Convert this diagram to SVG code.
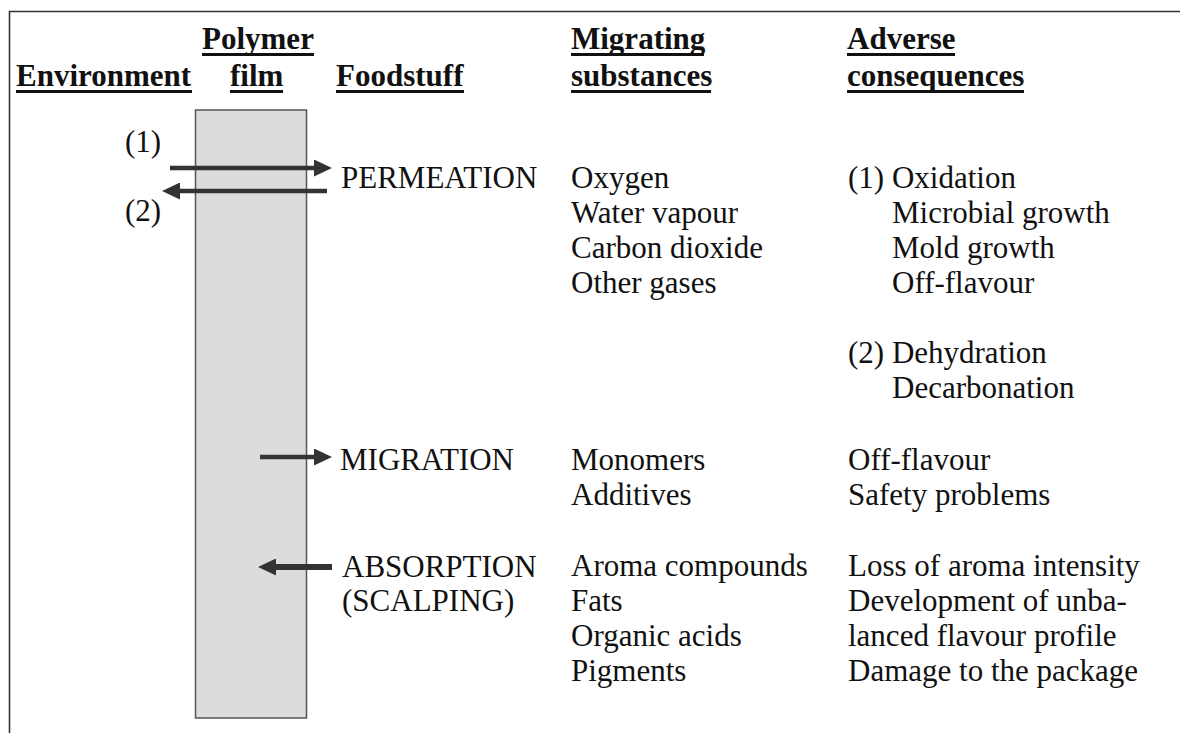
<svg xmlns="http://www.w3.org/2000/svg" width="1180" height="733" viewBox="0 0 1180 733">
<style>
text{font-family:"Liberation Serif","Times New Roman",serif;fill:#111;}
.h{font-weight:bold;font-size:31px;}
.t{font-size:31px;}
.ul{fill:#111;}
.arr{stroke:#333;stroke-width:4.5;fill:none;}
</style>
<defs>
<marker id="ah" viewBox="0 0 18 17" refX="8" refY="8.5" markerWidth="18" markerHeight="17" orient="auto" markerUnits="userSpaceOnUse">
<path d="M0,0 L18,8.5 L0,17 z" fill="#333"/>
</marker>
</defs>
<rect width="1180" height="733" fill="#fff"/>
<path d="M9.5,733 V11.5 H1180" fill="none" stroke="#333" stroke-width="1.6"/>
<g id="headers">
<text class="h" x="16" y="86">Environment</text>
<rect class="ul" x="16" y="90" width="176" height="3"/>
<text class="h" x="202" y="49">Polymer</text>
<rect class="ul" x="202" y="53" width="112" height="3"/>
<text class="h" x="230" y="86">film</text>
<rect class="ul" x="230" y="90" width="53" height="3"/>
<text class="h" x="336" y="86">Foodstuff</text>
<rect class="ul" x="336" y="90" width="128" height="3"/>
<text class="h" x="571" y="49">Migrating</text>
<rect class="ul" x="571" y="53" width="133" height="3"/>
<text class="h" x="571" y="86">substances</text>
<rect class="ul" x="571" y="90" width="140" height="3"/>
<text class="h" x="847" y="49">Adverse</text>
<rect class="ul" x="847" y="53" width="108" height="3"/>
<text class="h" x="847" y="86">consequences</text>
<rect class="ul" x="847" y="90" width="177" height="3"/>
</g>
<g id="film">
<rect x="195.5" y="110" width="111" height="608" fill="#dcdcdc" stroke="#555" stroke-width="1.5"/>
</g>
<g id="connectors">
<line class="arr" x1="170" y1="168" x2="322" y2="168" marker-end="url(#ah)"/>
<line class="arr" x1="327" y1="191" x2="172" y2="191" marker-end="url(#ah)"/>
<line class="arr" x1="260" y1="457" x2="322" y2="457" marker-end="url(#ah)"/>
<line class="arr" x1="332" y1="567" x2="268" y2="567" marker-end="url(#ah)" style="stroke-width:6"/>
</g>
<g id="labels12">
<text class="t" x="125" y="152">(1)</text>
<text class="t" x="125" y="221">(2)</text>
</g>
<g id="permeation">
<text class="t" x="341" y="188">PERMEATION</text>
<text class="t" x="571" y="188">Oxygen</text>
<text class="t" x="571" y="223">Water vapour</text>
<text class="t" x="571" y="258">Carbon dioxide</text>
<text class="t" x="571" y="293">Other gases</text>
<text class="t" x="848" y="188">(1) Oxidation</text>
<text class="t" x="892" y="223">Microbial growth</text>
<text class="t" x="892" y="258">Mold growth</text>
<text class="t" x="892" y="293">Off-flavour</text>
<text class="t" x="848" y="363">(2) Dehydration</text>
<text class="t" x="892" y="398">Decarbonation</text>
</g>
<g id="migration">
<text class="t" x="340" y="470">MIGRATION</text>
<text class="t" x="571" y="470">Monomers</text>
<text class="t" x="571" y="505">Additives</text>
<text class="t" x="848" y="470">Off-flavour</text>
<text class="t" x="848" y="505">Safety problems</text>
</g>
<g id="absorption">
<text class="t" x="342" y="577">ABSORPTION</text>
<text class="t" x="342" y="611">(SCALPING)</text>
<text class="t" x="571" y="576">Aroma compounds</text>
<text class="t" x="571" y="611">Fats</text>
<text class="t" x="571" y="646">Organic acids</text>
<text class="t" x="571" y="681">Pigments</text>
<text class="t" x="848" y="576">Loss of aroma intensity</text>
<text class="t" x="848" y="611">Development of unba-</text>
<text class="t" x="848" y="646">lanced flavour profile</text>
<text class="t" x="848" y="681">Damage to the package</text>
</g>
</svg>
